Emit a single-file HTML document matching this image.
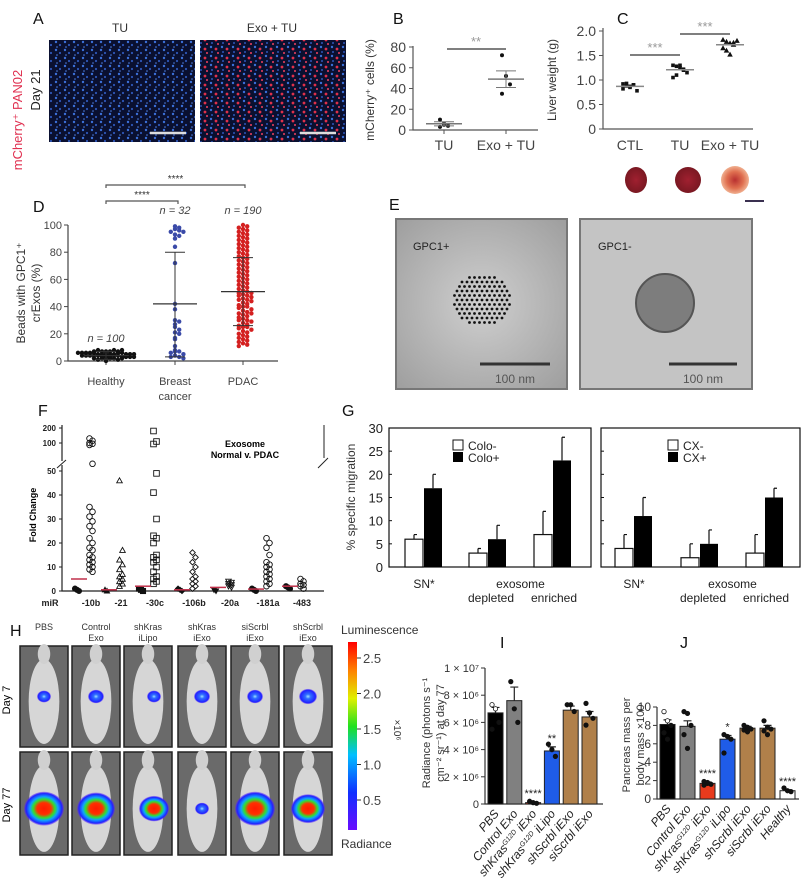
<!DOCTYPE html>
<html><head><meta charset="utf-8">
<style>
html,body{margin:0;padding:0;background:#fff;}
svg{display:block;font-family:"Liberation Sans",sans-serif;}
.t{font-size:12px;fill:#333;}
.lt{font-size:16px;fill:#111;}
</style></head>
<body>
<svg id="fig" width="805" height="883" viewBox="0 0 805 883" xmlns="http://www.w3.org/2000/svg">
<defs>
<pattern id="cellsBlue" width="9" height="8" patternUnits="userSpaceOnUse">
<rect width="9" height="8" fill="#0a1030"/>
<circle cx="2" cy="2" r="1.2" fill="#3b6fd8"/><circle cx="6" cy="5" r="1.1" fill="#2d56b8"/><circle cx="3" cy="7" r="0.8" fill="#5080e0"/>
</pattern>
<pattern id="cellsRed" width="11" height="9" patternUnits="userSpaceOnUse">
<rect width="11" height="9" fill="#0a1030"/>
<circle cx="2" cy="2" r="1.2" fill="#3b6fd8"/><circle cx="7" cy="4" r="1.4" fill="#e0304a"/><circle cx="3" cy="7" r="1" fill="#2d56b8"/><circle cx="9" cy="8" r="1" fill="#f04060"/>
</pattern>
<radialGradient id="temGrad" cx="0.5" cy="0.5" r="0.7"><stop offset="0" stop-color="#cfcfcf"/><stop offset="1" stop-color="#9e9e9e"/></radialGradient>
<radialGradient id="blob" cx="0.5" cy="0.5" r="0.5"><stop offset="0" stop-color="#ff1a00"/><stop offset="0.35" stop-color="#ff3000"/><stop offset="0.55" stop-color="#30e030"/><stop offset="0.7" stop-color="#10a0ff"/><stop offset="0.9" stop-color="#2020ff"/><stop offset="1" stop-color="#6020ff" stop-opacity="0.3"/></radialGradient>
<radialGradient id="blobSmall" cx="0.5" cy="0.5" r="0.5"><stop offset="0" stop-color="#a0e0ff"/><stop offset="0.3" stop-color="#3070ff"/><stop offset="0.85" stop-color="#2020ff"/><stop offset="1" stop-color="#6030ff" stop-opacity="0.3"/></radialGradient>
<linearGradient id="cbar" x1="0" y1="1" x2="0" y2="0"><stop offset="0" stop-color="#6a0dff"/><stop offset="0.2" stop-color="#1030ff"/><stop offset="0.4" stop-color="#00c0ff"/><stop offset="0.55" stop-color="#20e020"/><stop offset="0.7" stop-color="#e0f000"/><stop offset="0.85" stop-color="#ff8000"/><stop offset="1" stop-color="#ff0000"/></linearGradient>
<radialGradient id="liver1" cx="0.5" cy="0.5" r="0.5"><stop offset="0" stop-color="#a02030"/><stop offset="1" stop-color="#7a1822"/></radialGradient>
<radialGradient id="liver3" cx="0.5" cy="0.5" r="0.5"><stop offset="0" stop-color="#b83030"/><stop offset="0.6" stop-color="#e07050"/><stop offset="1" stop-color="#f0b090"/></radialGradient>
</defs>

<g>
<text class="lt" x="33" y="24">A</text>
<text class="t" x="120" y="32" text-anchor="middle" font-size="14">TU</text>
<text class="t" x="272" y="32" text-anchor="middle" font-size="14">Exo + TU</text>
<text x="22" y="120" transform="rotate(-90 22 120)" text-anchor="middle" font-size="13" fill="#e03050">mCherry⁺ PAN02</text>
<text x="40" y="90" transform="rotate(-90 40 90)" text-anchor="middle" font-size="13" fill="#222">Day 21</text>
<rect x="49" y="40" width="146" height="102" fill="url(#cellsBlue)"/>
<rect x="200" y="40" width="146" height="102" fill="url(#cellsRed)"/>
<line x1="150" y1="133" x2="186" y2="133" stroke="#ddd" stroke-width="2.5"/>
<line x1="300" y1="133" x2="336" y2="133" stroke="#ddd" stroke-width="2.5"/>
</g>

<text class="lt" x="393" y="24">B</text>
<text class="t" x="374" y="90" transform="rotate(-90 374 90)" text-anchor="middle" font-size="13">mCherry⁺ cells (%)</text>
<text class="lt" x="617" y="24">C</text>
<text class="t" x="556" y="80" transform="rotate(-90 556 80)" text-anchor="middle" font-size="13">Liver weight (g)</text>
<g id="livers">
<ellipse cx="636" cy="180" rx="11" ry="13" fill="url(#liver1)"/>
<ellipse cx="688" cy="180" rx="13" ry="13" fill="url(#liver1)"/>
<ellipse cx="735" cy="180" rx="14" ry="14" fill="url(#liver3)"/>
<line x1="745" y1="201" x2="764" y2="201" stroke="#3a3050" stroke-width="2"/>
</g>

<text class="lt" x="33" y="212">D</text>
<text class="t" x="25" y="293" transform="rotate(-90 25 293)" text-anchor="middle">Beads with GPC1⁺</text>
<text class="t" x="40" y="293" transform="rotate(-90 40 293)" text-anchor="middle">crExos (%)</text>

<g>
<text class="lt" x="389" y="210">E</text>
<rect x="396" y="219" width="171" height="170" fill="url(#temGrad)" stroke="#777" stroke-width="2"/>
<rect x="580" y="219" width="172" height="170" fill="#c4c4c4" stroke="#777" stroke-width="2"/>
<text x="413" y="250" font-size="11" fill="#222">GPC1+</text>
<text x="598" y="250" font-size="11" fill="#222">GPC1-</text>
<g id="gold"></g>
<circle cx="665" cy="303" r="29" fill="#7d7d7d" stroke="#555" stroke-width="2"/>
<line x1="480" y1="364" x2="550" y2="364" stroke="#333" stroke-width="3"/>
<text x="515" y="383" font-size="12" fill="#555" text-anchor="middle">100 nm</text>
<line x1="669" y1="364" x2="737" y2="364" stroke="#333" stroke-width="3"/>
<text x="703" y="383" font-size="12" fill="#555" text-anchor="middle">100 nm</text>
</g>

<text class="lt" x="38" y="416">F</text>
<text x="36" y="515" transform="rotate(-90 36 515)" text-anchor="middle" font-size="9" font-weight="bold">Fold Change</text>
<text x="245" y="447" text-anchor="middle" font-size="9" font-weight="bold">Exosome</text>
<text x="245" y="458" text-anchor="middle" font-size="9" font-weight="bold">Normal v. PDAC</text>

<text class="lt" x="342" y="416">G</text>
<text class="t" x="355" y="497" transform="rotate(-90 355 497)" text-anchor="middle" font-size="13">% specific migration</text>

<g id="panelH">
<text class="lt" x="10" y="636" font-size="18">H</text>
<text x="10" y="700" transform="rotate(-90 10 700)" text-anchor="middle" font-size="11">Day 7</text>
<text x="10" y="805" transform="rotate(-90 10 805)" text-anchor="middle" font-size="11">Day 77</text>
<rect x="348" y="642" width="9" height="188" fill="url(#cbar)"/>
<text x="341" y="634" font-size="12" fill="#333">Luminescence</text>
<text x="341" y="848" font-size="12" fill="#333">Radiance</text>
<text x="394" y="730" transform="rotate(90 394 730)" text-anchor="middle" font-size="10" fill="#333">×10⁶</text>
</g>

<text class="lt" x="500" y="648" font-size="18">I</text>
<text class="lt" x="680" y="648" font-size="18">J</text>
<text x="430" y="733" transform="rotate(-90 430 733)" text-anchor="middle" font-size="11" fill="#333">Radiance (photons s⁻¹</text>
<text x="444" y="733" transform="rotate(-90 444 733)" text-anchor="middle" font-size="11" fill="#333">cm⁻² sr⁻¹)  at day 77</text>
<text x="630" y="745" transform="rotate(-90 630 745)" text-anchor="middle" font-size="11" fill="#333">Pancreas mass per</text>
<text x="644" y="745" transform="rotate(-90 644 745)" text-anchor="middle" font-size="11" fill="#333">body mass ×100</text>
</svg>

<script>
const bCats = ["TU","Exo + TU"];
const bTU = [10,6,4,3,5];
const bExo = [72,52,44,35];
const bMeans = [6,49];
const bSem = [2,8];
const bTicks = [0,20,40,60,80];

const cCats = ["CTL","TU","Exo + TU"];
const cCTL = [0.92,0.88,0.85,0.9,0.78,0.82,0.93,0.87,0.9];
const cTU = [1.3,1.28,1.25,1.22,1.15,1.05,1.1,1.3,1.2];
const cExo = [1.82,1.78,1.75,1.72,1.8,1.65,1.6,1.52,1.76];
const cMeans = [0.87,1.21,1.72];
const cTicks = [0,0.5,1.0,1.5,2.0];

const dCats = ["Healthy","Breast","PDAC"];
const dN = ["n = 100","n = 32","n = 190"];
const dHealthy = [1,2,2,3,3,3,4,4,4,4,5,5,5,5,5,6,6,6,6,7,7,7,8,8,2,3,4,5,6,1,0,1,2,3,4,5,6,7,3,4,2,5,6,7,8,3];
const dBreast = [99,98,97,96,95,95,93,92,90,84,72,42,38,30,29,27,25,23,21,20,17,16,11,8,7,7,6,5,4,3,3,2];
const dPDAC = [100,99,98,97,96,95,94,93,92,91,90,89,88,87,86,85,84,83,82,81,80,79,78,77,76,75,74,73,72,71,70,69,68,67,66,65,64,63,62,61,60,59,58,57,56,55,54,53,52,51,50,50,49,48,48,47,46,45,45,44,43,42,41,40,40,39,38,37,36,35,35,34,33,32,31,30,30,29,28,27,26,25,25,24,23,22,21,20,19,18,17,16,15,14,13,12,11];
const dMean = [4,42,51];
const dErrLo = [1,3,26];
const dErrHi = [7,80,76];
const dTicks = [0,20,40,60,80,100];

const fCats = ["-10b","-21","-30c","-106b","-20a","-181a","-483"];
const fMarkers = ["circle","triangle","square","diamond","tridown","circle","circle"];
const fPDAC = [
 [130,115,100,92,80,53,35,33,31,29,27,25,22,20,18,17,15,14,13,12,11,10,9,8],
 [46,17,13,11,9,7,6,5,4,3,2],
 [180,110,90,49,41,30,23,22,20,15,14,13,12,10,8,6,5,4,3],
 [16,14,12,10,8,6,5,4,3,2,1],
 [4,3.5,3,2.5,2,1.5],
 [22,20,18,15,12,11,10,9,8,7,6,5,4,3,2],
 [5,4,3,2.5,2,1]
];
const fNormal = [[1,0.5,0],[0.5,0],[1,0.5,0],[1,0.5,0],[0.5,0],[1,0.5,0],[2,1.5,1]];
const fMedian = [5,0.5,2,0.5,1.5,0.8,2];
const fTicksLow = [0,10,20,30,40,50];
const fTicksHigh = [100,200];

const gCats = ["SN*","depleted","enriched"];
const gColoNeg = [6,3,7];
const gColoPos = [17,6,23];
const gColoNegErr = [7,4,12];
const gColoPosErr = [20,9,28];
const gCxNeg = [4,2,3];
const gCxPos = [11,5,15];
const gCxNegErr = [7,5,7];
const gCxPosErr = [15,8,17];
const gTicks = [0,5,10,15,20,25,30];

const hCols = [["PBS",""],["Control","Exo"],["shKras","iLipo"],["shKras","iExo"],["siScrbl","iExo"],["shScrbl","iExo"]];
const hDay7Size = [7,8,7,8,8,9];
const hDay77Size = [20,19,15,7,20,17];
const cbTicks = [0.5,1.0,1.5,2.0,2.5];

const iCats = ["PBS","Control Exo","shKras G12D iExo","shKras G12D iLipo","shScrbl iExo","siScrbl iExo"];
const iVals = [6.7,7.6,0.1,3.9,6.9,6.4];
const iErr = [0.4,1.0,0.05,0.3,0.3,0.4];
const iPts = [[7.3,7.0,6.0,5.5],[9.0,7.0,6.0],[0.2,0.1,0.05],[4.4,4.0,3.5],[7.3,7.3,6.8],[7.4,6.7,6.3,5.8]];
const iColors = ["#000","#808080","#e83a1c","#1f5ce8","#b0804a","#b0804a"];
const iSig = ["","","****","**","",""];
const iTicks = [0,2,4,6,8,10];
const iTickLabels = ["0","2 × 10⁶","4 × 10⁶","6 × 10⁶","8 × 10⁶","1 × 10⁷"];

const jCats = ["PBS","Control Exo","shKras G12D iExo","shKras G12D iLipo","shScrbl iExo","siScrbl iExo","Healthy"];
const jVals = [8.1,7.9,1.7,6.5,7.7,7.7,0.9];
const jErr = [0.5,0.6,0.15,0.4,0.2,0.3,0.1];
const jPts = [[9.5,8.5,8.0,7.2,6.5],[9.5,9.3,8.0,7.0,5.5],[1.9,1.7,1.6,1.5,1.8],[7.0,6.8,6.5,5.0],[8.0,7.8,7.6,7.5,7.3],[8.5,7.8,7.6,7.4,7.0],[1.2,0.9,0.8]];
const jColors = ["#000","#808080","#e83a1c","#1f5ce8","#b0804a","#b0804a","#fff"];
const jSig = ["","","****","*","","","****"];
const jTicks = [0,2,4,6,8,10];

const svg = document.getElementById('fig');
const NS = 'http://www.w3.org/2000/svg';
function mk(tag, attrs, parent){ const e=document.createElementNS(NS,tag); for(const k in attrs) e.setAttribute(k,attrs[k]); (parent||svg).appendChild(e); return e; }
function txt(x,y,s,attrs){ const e=mk('text',Object.assign({x:x,y:y,'font-size':12,fill:'#444'},attrs||{})); e.textContent=s; return e; }
function marker(type,x,y,r,fill,stroke,parent){
  let e;
  if(type==='circle') e=mk('circle',{cx:x,cy:y,r:r,fill:fill,stroke:stroke,'stroke-width':0.9},parent);
  else if(type==='square') e=mk('rect',{x:x-r,y:y-r,width:2*r,height:2*r,fill:fill,stroke:stroke,'stroke-width':0.9},parent);
  else if(type==='triangle') e=mk('polygon',{points:`${x},${y-r} ${x+r},${y+r*0.8} ${x-r},${y+r*0.8}`,fill:fill,stroke:stroke,'stroke-width':0.9},parent);
  else if(type==='tridown') e=mk('polygon',{points:`${x},${y+r} ${x+r},${y-r*0.8} ${x-r},${y-r*0.8}`,fill:fill,stroke:stroke,'stroke-width':0.9},parent);
  else e=mk('polygon',{points:`${x},${y-r} ${x+r},${y} ${x},${y+r} ${x-r},${y}`,fill:fill,stroke:stroke,'stroke-width':0.9},parent);
  return e;
}

(function(){
  const y = v => 130 - v/80*83;
  const xc = [444,506];
  const ax = mk('path',{d:'M413,46 V130 H538',fill:'none',stroke:'#555','stroke-width':1.2});
  
  
  bTicks.forEach(t=>{
    mk('line',{x1:409,x2:413,y1:y(t),y2:y(t),stroke:'#555'});
    const l=txt(406,y(t)+5,String(t),{'text-anchor':'end','font-size':14});
    
    
  });
  bCats.forEach((c,i)=>{
    mk('line',{x1:xc[i],x2:xc[i],y1:130,y2:134,stroke:'#555'});
    const l=txt(xc[i],150,c,{'text-anchor':'middle','font-size':14});
    
    
  });
  [bTU,bExo].forEach((arr,i)=>{
    arr.forEach((v,j)=>{
      const p=mk('circle',{cx:xc[i]+((j%3)-1)*4,cy:y(v),r:2,fill:'#111'});
      
      
    });
    const m=mk('line',{x1:xc[i]-18,x2:xc[i]+18,y1:y(bMeans[i]),y2:y(bMeans[i]),stroke:'#777','stroke-width':1.5});
    
    
    mk('line',{x1:xc[i],x2:xc[i],y1:y(bMeans[i]-bSem[i]),y2:y(bMeans[i]+bSem[i]),stroke:'#777'});
    mk('line',{x1:xc[i]-10,x2:xc[i]+10,y1:y(bMeans[i]+bSem[i]),y2:y(bMeans[i]+bSem[i]),stroke:'#777'});
    mk('line',{x1:xc[i]-10,x2:xc[i]+10,y1:y(bMeans[i]-bSem[i]),y2:y(bMeans[i]-bSem[i]),stroke:'#777'});
  });
  const s=mk('line',{x1:447,x2:506,y1:49,y2:49,stroke:'#555','stroke-width':1.5});
  
  
  txt(476,46,'**',{'text-anchor':'middle',fill:'#999','font-size':13});
})();

(function(){
  const y = v => 129 - v/2*98;
  const xc = [630,680,730];
  const ax=mk('path',{d:'M603,28 V129 H753',fill:'none',stroke:'#555','stroke-width':1.2});
  
  
  cTicks.forEach(t=>{
    mk('line',{x1:599,x2:603,y1:y(t),y2:y(t),stroke:'#555'});
    const l=txt(596,y(t)+5,t===0?'0':t.toFixed(1),{'text-anchor':'end','font-size':14});
    
    
  });
  cCats.forEach((c,i)=>{
    const l=txt(xc[i],150,c,{'text-anchor':'middle','font-size':14});
    
    
  });
  [cCTL,cTU,cExo].forEach((arr,i)=>{
    arr.forEach((v,j)=>{
      const p = i===2 ? marker('triangle',xc[i]+((j%5)-2)*3.5,y(v),2,'#111','#111') : mk('rect',{x:xc[i]+((j%5)-2)*3.5-1.8,y:y(v)-1.8,width:3.6,height:3.6,fill:'#111'});
      
      
    });
    const m=mk('line',{x1:xc[i]-14,x2:xc[i]+14,y1:y(cMeans[i]),y2:y(cMeans[i]),stroke:'#888','stroke-width':1.5});
    
    
  });
  [[630,680,55],[680,730,34]].forEach(b=>{
    const s=mk('line',{x1:b[0],x2:b[1],y1:b[2],y2:b[2],stroke:'#555','stroke-width':1.5});
    
    
    txt((b[0]+b[1])/2,b[2]-3,'***',{'text-anchor':'middle',fill:'#999','font-size':13});
  });
})();

(function(){
  const y = v => 361 - v*1.36;
  const xc = [106,175,243];
  const colors = ['#111','#3a4aa8','#d42020'];
  const ax=mk('path',{d:'M68,225 V361 H278',fill:'none',stroke:'#444','stroke-width':1.2});
  
  
  dTicks.forEach(t=>{
    mk('line',{x1:64,x2:68,y1:y(t),y2:y(t),stroke:'#444'});
    const l=txt(62,y(t)+4,String(t),{'text-anchor':'end','font-size':11});
    
    
  });
  const catLabels=[['Healthy'],['Breast','cancer'],['PDAC']];
  catLabels.forEach((ls,i)=>{
    mk('line',{x1:xc[i],x2:xc[i],y1:361,y2:365,stroke:'#444'});
    ls.forEach((s,k)=>{
      const l=txt(xc[i],385+k*15,s,{'text-anchor':'middle','font-size':11});
      
      
    });
  });
  [dHealthy,dBreast,dPDAC].forEach((arr,i)=>{
    const bins={};
    arr.forEach(v=>{
      const b=Math.round(v/(i===0?2:3));
      bins[b]=(bins[b]||0)+1;
      const k=bins[b]-1;
      const off=(k%2?1:-1)*Math.ceil(k/2)*(i===0?4:4.2);
      const p=mk('circle',{cx:xc[i]+off,cy:y(v),r:2.2,fill:colors[i]});
      
      
    });
    const m=mk('line',{x1:xc[i]-22,x2:xc[i]+22,y1:y(dMean[i]),y2:y(dMean[i]),stroke:'#333','stroke-width':1.2});
    
    
    mk('line',{x1:xc[i],x2:xc[i],y1:y(dErrLo[i]),y2:y(dErrHi[i]),stroke:'#333'});
    mk('line',{x1:xc[i]-10,x2:xc[i]+10,y1:y(dErrLo[i]),y2:y(dErrLo[i]),stroke:'#333'});
    mk('line',{x1:xc[i]-10,x2:xc[i]+10,y1:y(dErrHi[i]),y2:y(dErrHi[i]),stroke:'#333'});
    const n=txt(xc[i],i===0?342:214,dN[i],{'text-anchor':'middle','font-size':11,'font-style':'italic'});
    
    
  });
  [[106,245,185],[106,178,201]].forEach(b=>{
    const s=mk('path',{d:`M${b[0]},${b[2]+3} V${b[2]} H${b[1]} V${b[2]+3}`,fill:'none',stroke:'#555','stroke-width':1.2});
    
    
    txt((b[0]+b[1])/2,b[2]-3,'****',{'text-anchor':'middle','font-size':10,fill:'#333'});
  });
})();

(function(){
  const g=document.getElementById('gold');
  for(let r=0;r<11;r++){
    for(let c=0;c<12;c++){
      const dx=(c-5.5)*5+(r%2)*2.5, dy=(r-5)*4.5;
      if(dx*dx/900+dy*dy/650<1){
        const p=mk('circle',{cx:482+dx,cy:300+dy,r:1.4,fill:'#111'},g);
        
        
      }
    }
  }
})();

(function(){
  const y = v => v<=55 ? 591 - v*2.4 : (v<=100 ? 443 + (100-v)*0.1 : 443 - (v-100)*0.15);
  const xc=[91,121,155,194,230,268,302];
  const ax=mk('path',{d:'M62,425 V591 H324',fill:'none',stroke:'#222','stroke-width':1.2});
  
  
  mk('rect',{x:57,y:461,width:10,height:4,fill:'#fff'});
  mk('line',{x1:57,y1:468,x2:66,y2:460,stroke:'#222'});
  mk('line',{x1:318,y1:468,x2:328,y2:458,stroke:'#222'});
  mk('line',{x1:324,y1:425,x2:324,y2:458,stroke:'#222'});
  fTicksLow.concat(fTicksHigh).forEach(t=>{
    mk('line',{x1:59,x2:62,y1:y(t),y2:y(t),stroke:'#222'});
    const l=txt(56,y(t)+3,String(t),{'text-anchor':'end','font-size':8,'font-weight':'bold',fill:'#222'});
    
    
  });
  txt(50,606,'miR',{'text-anchor':'middle','font-size':9,'font-weight':'bold',fill:'#222'});
  fCats.forEach((c,i)=>{
    const l=txt(xc[i],606,c,{'text-anchor':'middle','font-size':9,'font-weight':'bold',fill:'#222'});
    
    
    fNormal[i].forEach((v,j)=>{
      const p=marker(fMarkers[i],xc[i]-14+(j-1)*2,y(v),2.6,'#111','#111');
      
      
    });
    fPDAC[i].forEach((v,j)=>{
      const p=marker(fMarkers[i],xc[i]+((j%2)?1.5:-1.5),y(v),2.8,'none','#111');
      
      
    });
    const m=mk('line',{x1:xc[i]-20,x2:xc[i]-4,y1:y(fMedian[i]),y2:y(fMedian[i]),stroke:'#c0304a','stroke-width':1.5});
    
    
  });
})();

(function(){
  const y = v => 567 - v*139/30;
  const panels=[
    {x0:389,x1:591,xs:[405,469,534],neg:gColoNeg,pos:gColoPos,ne:gColoNegErr,pe:gColoPosErr,leg:['Colo-','Colo+'],lx:453,name:'colo'},
    {x0:601,x1:800,xs:[615,681,746],neg:gCxNeg,pos:gCxPos,ne:gCxNegErr,pe:gCxPosErr,leg:['CX-','CX+'],lx:668,name:'cx'}
  ];
  panels.forEach((P,pi)=>{
    const box=mk('rect',{x:P.x0,y:428,width:P.x1-P.x0,height:139,fill:'none',stroke:'#111','stroke-width':1.2});
    
    
    gTicks.forEach(t=>{
      mk('line',{x1:P.x0,x2:P.x0+3,y1:y(t),y2:y(t),stroke:'#111'});
      if(pi===0){
        const l=txt(P.x0-6,y(t)+5,String(t),{'text-anchor':'end','font-size':13,fill:'#222'});
        
        
      }
    });
    P.xs.forEach((x,i)=>{
      const w=18;
      const b1=mk('rect',{x:x,y:y(P.neg[i]),width:w,height:y(0)-y(P.neg[i]),fill:'#fff',stroke:'#111','stroke-width':1.2});
      
      
      const b2=mk('rect',{x:x+w+1,y:y(P.pos[i]),width:w,height:y(0)-y(P.pos[i]),fill:'#000'});
      
      
      mk('path',{d:`M${x+w/2},${y(P.neg[i])} V${y(P.ne[i])} M${x+w/2},${y(P.ne[i])} h3`,stroke:'#111','stroke-width':1.2,fill:'none'});
      mk('path',{d:`M${x+w*1.5+1},${y(P.pos[i])} V${y(P.pe[i])} M${x+w*1.5+1},${y(P.pe[i])} h3`,stroke:'#111','stroke-width':1.2,fill:'none'});
    });
    txt(P.xs[0]+19,588,'SN*',{'text-anchor':'middle','font-size':12,fill:'#222'});
    txt((P.xs[1]+P.xs[2])/2+19,588,'exosome',{'text-anchor':'middle','font-size':12,fill:'#222'});
    txt(P.xs[1]+22,602,'depleted',{'text-anchor':'middle','font-size':12,fill:'#222'});
    txt(P.xs[2]+20,602,'enriched',{'text-anchor':'middle','font-size':12,fill:'#222'});
    const l1=mk('rect',{x:P.lx,y:440,width:10,height:10,fill:'#fff',stroke:'#111'});
    
    
    const l2=mk('rect',{x:P.lx,y:452,width:10,height:10,fill:'#000'});
    
    
    txt(P.lx+15,450,P.leg[0],{'font-size':12,fill:'#222'});
    txt(P.lx+15,462,P.leg[1],{'font-size':12,fill:'#222'});
  });
})();

(function(){
  const xs=[20,72,124,178,231,284];
  const w=48;
  xs.forEach((x,i)=>{
    const h1=txt(x+w/2,630,hCols[i][0],{'text-anchor':'middle','font-size':9,fill:'#333'});
    
    
    txt(x+w/2,641,hCols[i][1],{'text-anchor':'middle','font-size':9,fill:'#333'});
    [[646,101,hDay7Size[i]],[752,103,hDay77Size[i]]].forEach((r,ri)=>{
      const fr=mk('rect',{x:x,y:r[0],width:w,height:r[1],fill:'#6a6a6a',stroke:'#222','stroke-width':1.5});
      
      
      mk('ellipse',{cx:x+w/2,cy:r[0]+r[1]*0.55,rx:w*0.32,ry:r[1]*0.42,fill:'#d6d6d6'});
      mk('ellipse',{cx:x+w/2,cy:r[0]+8,rx:w*0.13,ry:10,fill:'#d0d0d0'});
      const bl=mk('ellipse',{cx:x+w/2+(i===2?6:0),cy:r[0]+r[1]*(ri?0.55:0.5),rx:r[2],ry:r[2]*0.85,fill:r[2]>10?'url(#blob)':'url(#blobSmall)'});
      
      
    });
  });
  const y = v => 835.5 - v*71;
  cbTicks.forEach(t=>{
    mk('line',{x1:357,x2:361,y1:y(t),y2:y(t),stroke:'#333'});
    const l=txt(363,y(t)+5,t.toFixed(1),{'font-size':13,fill:'#444'});
    
    
  });
})();

function barPanel(o){
  const y = v => o.y0 - v*o.k;
  const ax=mk('path',{d:`M${o.ax},${y(o.ticks[o.ticks.length-1])} V${o.y0} H${o.ax+o.len}`,fill:'none',stroke:'#333','stroke-width':1.2});
  
  
  o.ticks.forEach((t,i)=>{
    mk('line',{x1:o.ax-4,x2:o.ax,y1:y(t),y2:y(t),stroke:'#333'});
    const l=txt(o.ax-6,y(t)+4,o.tickLabels?o.tickLabels[i]:String(t),{'text-anchor':'end','font-size':o.tickFont,fill:'#333'});
    
    
  });
  o.vals.forEach((v,i)=>{
    const x=o.ax+3+i*o.step;
    const b=mk('rect',{x:x,y:y(v),width:o.bw,height:o.y0-y(v),fill:o.colors[i],stroke:'#222','stroke-width':1});
    
    
    const cx=x+o.bw/2;
    mk('path',{d:`M${cx},${y(v)} V${y(v+o.err[i])} M${cx-4},${y(v+o.err[i])} h8`,stroke:'#222','stroke-width':1.2,fill:'none'});
    o.pts[i].forEach((p,j)=>{
      const pt=mk('circle',{cx:cx+((j%3)-1)*3.5,cy:y(p),r:2.2,fill:(i===0&&j<2)?'#fff':'#111',stroke:'#111','stroke-width':0.8});
      
      
    });
    if(o.sig[i]) txt(cx,y(v+o.err[i])-5,o.sig[i],{'text-anchor':'middle','font-size':11,fill:'#222'});
    const lab=mk('text',{x:cx+4,y:o.y0+10,'font-size':12,fill:'#222','text-anchor':'end',transform:`rotate(-50 ${cx+4} ${o.y0+10})`});
    const parts=o.cats[i].split(' G12D ');
    if(parts.length===2){
      lab.appendChild(document.createTextNode(parts[0]));
      const sup=document.createElementNS(NS,'tspan'); sup.setAttribute('font-size','7'); sup.setAttribute('dy','-4'); sup.textContent='G12D'; lab.appendChild(sup);
      const rest=document.createElementNS(NS,'tspan'); rest.setAttribute('dy','4'); rest.textContent=' '+parts[1]; lab.appendChild(rest);
    } else lab.textContent=o.cats[i];
    lab.setAttribute('font-style','italic');
    
    
  });
}
barPanel({name:'i',ax:485,y0:804,k:13.6,len:118,step:18.8,bw:15,vals:iVals,err:iErr,pts:iPts,colors:iColors,sig:iSig,cats:iCats,ticks:iTicks,tickLabels:iTickLabels,tickFont:11});
barPanel({name:'j',ax:657,y0:799,k:9.2,len:142,step:20,bw:15,vals:jVals,err:jErr,pts:jPts,colors:jColors,sig:jSig,cats:jCats,ticks:jTicks,tickFont:12});
</script>
</body></html>
